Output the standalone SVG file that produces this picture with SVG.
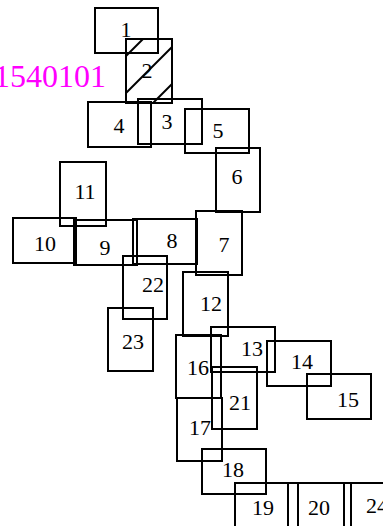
<svg xmlns="http://www.w3.org/2000/svg" width="383" height="526" viewBox="0 0 383 526">
<style>
.b{fill:none;stroke:#000;stroke-width:2}
.h{stroke:#000;stroke-width:2}
text{font-family:"Liberation Serif","Times New Roman",serif;font-size:22px;fill:#000;text-anchor:middle}
.t{font-size:32px;fill:#ff00ff;text-anchor:end}
</style>
<rect width="383" height="526" fill="#fff"/>
<text class="t" x="106" y="87">1540101</text>
<g id="n1"><rect class="b" x="95" y="8" width="63" height="45"/><text x="126" y="37">1</text></g>
<g id="n2"><rect class="b" x="126" y="39" width="46" height="64"/><line class="h" x1="126" y1="56" x2="143" y2="39"/><line class="h" x1="126" y1="93" x2="172" y2="47"/><line class="h" x1="153" y1="103" x2="172" y2="84"/><text x="147" y="78">2</text></g>
<g id="n4"><rect class="b" x="88" y="102" width="63" height="45"/><text x="119" y="133">4</text></g>
<g id="n3"><rect class="b" x="138" y="99" width="64" height="45"/><text x="167" y="129">3</text></g>
<g id="n5"><rect class="b" x="185" y="109" width="64" height="44"/><text x="218" y="138">5</text></g>
<g id="n6"><rect class="b" x="216" y="148" width="44" height="64"/><text x="237" y="184">6</text></g>
<g id="n7"><rect class="b" x="196" y="211" width="46" height="64"/><text x="224" y="252">7</text></g>
<g id="n8"><rect class="b" x="133" y="219" width="64" height="45"/><text x="172" y="248">8</text></g>
<g id="n9"><rect class="b" x="74" y="220" width="63" height="45"/><text x="105" y="255">9</text></g>
<g id="n10"><rect class="b" x="13" y="218" width="63" height="45"/><text x="45" y="251">10</text></g>
<g id="n11"><rect class="b" x="60" y="162" width="46" height="64"/><text x="85" y="199">11</text></g>
<g id="n22"><rect class="b" x="123" y="256" width="44" height="63"/><text x="153" y="292">22</text></g>
<g id="n23"><rect class="b" x="108" y="308" width="45" height="63"/><text x="133" y="349">23</text></g>
<g id="n12"><rect class="b" x="183" y="272" width="45" height="64"/><text x="211" y="311">12</text></g>
<g id="n16"><rect class="b" x="176" y="335" width="45" height="63"/><text x="198" y="375">16</text></g>
<g id="n13"><rect class="b" x="211" y="327" width="64" height="45"/><text x="252" y="356">13</text></g>
<g id="n14"><rect class="b" x="267" y="341" width="64" height="45"/><text x="302" y="369">14</text></g>
<g id="n15"><rect class="b" x="307" y="374" width="64" height="45"/><text x="348" y="407">15</text></g>
<g id="n21"><rect class="b" x="212" y="367" width="45" height="62"/><text x="240" y="410">21</text></g>
<g id="n17"><rect class="b" x="177" y="398" width="45" height="63"/><text x="200" y="435">17</text></g>
<g id="n18"><rect class="b" x="202" y="449" width="64" height="45"/><text x="233" y="477">18</text></g>
<g id="n19"><rect class="b" x="235" y="483" width="63" height="45"/><text x="263" y="515">19</text></g>
<g id="n20"><rect class="b" x="288" y="483" width="63" height="45"/><text x="319" y="515">20</text></g>
<g id="n24"><rect class="b" x="344" y="483" width="63" height="45"/><text x="377" y="513">24</text></g>
<g id="connectors"></g>
</svg>
